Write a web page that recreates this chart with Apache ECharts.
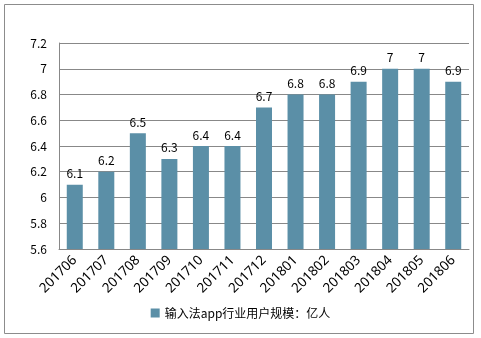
<!DOCTYPE html>
<html><head><meta charset="utf-8">
<script src="https://cdn.jsdelivr.net/npm/echarts@6/dist/echarts.min.js"></script>
<style>html,body{margin:0;padding:0;background:#fff}#c{width:481px;height:338px}</style>
</head><body><div id="c"></div>
<script>
var categories = ['201706','201707','201708','201709','201710','201711','201712','201801','201802','201803','201804','201805','201806'];
var values = [6.1,6.2,6.5,6.3,6.4,6.4,6.7,6.8,6.8,6.9,7,7,6.9];
var seriesName = '输入法app行业用户规模：亿人';
var chart = echarts.init(document.getElementById('c'), null, {renderer:'canvas'});
var font = '"Microsoft YaHei","Noto Sans CJK SC","DejaVu Sans",sans-serif';
chart.setOption({
  animation:false,
  textStyle:{fontFamily:font},
  graphic:[{type:'rect',shape:{x:4.5,y:4.5,width:469,height:329},style:{fill:'none',stroke:'#8c8c8c',lineWidth:1},silent:true}],
  grid:{left:59,right:12,top:43,bottom:89,containLabel:false},
  legend:{bottom:14,left:'center',itemWidth:9,itemHeight:9,itemGap:4,icon:'rect',
    textStyle:{fontSize:12,color:'#000',fontFamily:font},data:[seriesName]},
  xAxis:{type:'category',data:categories,
    axisLine:{lineStyle:{color:'#888'}},axisTick:{show:false},
    axisLabel:{rotate:45,fontSize:13.5,color:'#000',margin:9,interval:0,fontFamily:'"Noto Sans",sans-serif'}},
  yAxis:{type:'value',min:5.6,max:7.2,interval:0.2,
    axisLine:{show:true,lineStyle:{color:'#888'}},axisTick:{show:false},
    splitLine:{lineStyle:{color:'#888'}},
    axisLabel:{fontSize:12,color:'#000',margin:12,fontFamily:font,formatter:function(v){return String(Math.round(v*10)/10);}}},
  series:[{name:seriesName,type:'bar',data:values,barWidth:16,
    itemStyle:{color:'#5b8fa7'},
    label:{show:true,position:'top',fontSize:12,color:'#000',distance:5,fontFamily:font}}]
});
</script></body></html>
